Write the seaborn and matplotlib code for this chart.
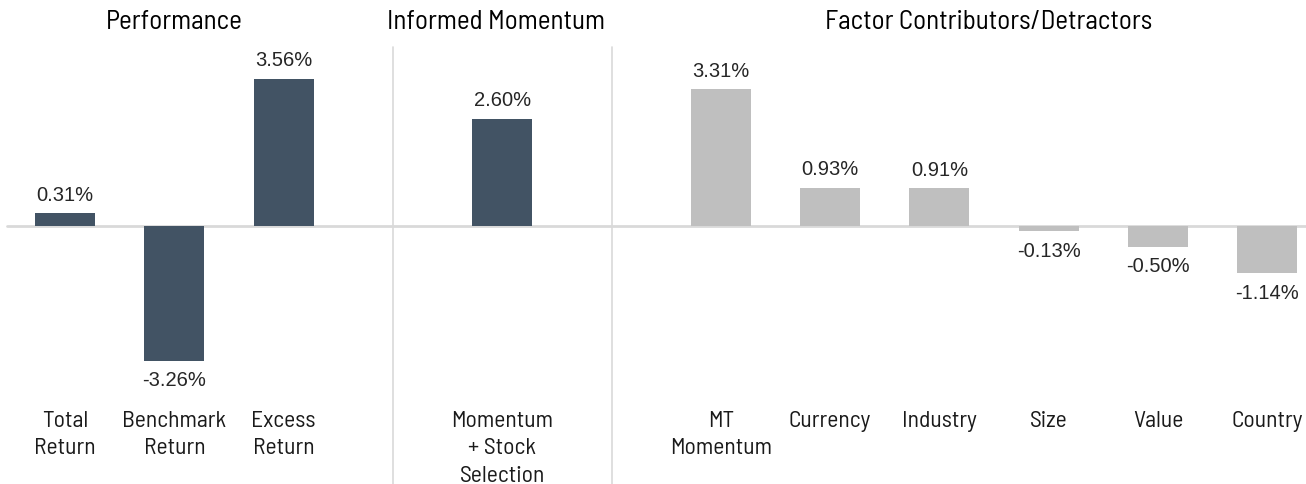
import numpy as np
import pandas as pd
import matplotlib.pyplot as plt
import seaborn as sns

sns.set_style("white")
plt.rcParams['font.family'] = ['Barlow Semi Condensed', 'Roboto', 'DejaVu Sans']

# chart data
labels = ["Total\nReturn", "Benchmark\nReturn", "Excess\nReturn", "gap1",
          "Momentum\n+ Stock\nSelection", "gap2",
          "MT\nMomentum", "Currency", "Industry", "Size", "Value", "Country"]
values = [0.31, -3.26, 3.56, np.nan, 2.60, np.nan,
          3.31, 0.93, 0.91, -0.13, -0.50, -1.14]
groups = ["Performance", "Performance", "Performance", "gap",
          "Informed Momentum", "gap",
          "Factor", "Factor", "Factor", "Factor", "Factor", "Factor"]
section_titles = ["Performance", "Informed Momentum", "Factor Contributors/Detractors"]
section_centers = [1.0, 3.94, 8.45]

dark = '#425364'
light = '#bfbfbf'
palette = {"Performance": dark, "Informed Momentum": dark, "Factor": light, "gap": 'white'}

df = pd.DataFrame({"label": labels, "value": values, "group": groups})

fig = plt.figure(figsize=(13.06, 4.85), dpi=100, facecolor='w')
ax = fig.add_axes([0, 0, 1, 1])

sns.barplot(data=df, x="label", y="value", hue="group", order=labels, palette=palette,
            dodge=False, width=0.55, legend=False, ax=ax, saturation=1, linewidth=0)

ax.set_xlim(-0.595, 11.354)
ax.set_ylim(-6.25, 5.50)
ax.axis('off')

# zero line and section dividers
ax.plot([-0.53, 11.354], [0, 0], color='#d9d9d9', lw=2, zorder=0)
for xd in [3, 5]:
    ax.plot([xd, xd], [-6.25, 4.33], color='#d9d9d9', lw=1.2, zorder=0)

# value labels
for i, v in enumerate(values):
    if np.isnan(v):
        continue
    off = 7 if v >= 0 else -7
    ax.annotate(f"{v:.2f}%", (i, v), xytext=(0, off), textcoords='offset points',
                ha='center', va='bottom' if v >= 0 else 'top', fontsize=14.5,
                color='#262626', family=['Liberation Sans', 'DejaVu Sans'])

# category labels
for i, lab in enumerate(labels):
    if lab.startswith("gap"):
        continue
    ax.text(i, -4.45, lab, ha='center', va='top', fontsize=17, linespacing=1.42,
            color='#1a1a1a')

# section titles
for t, xc in zip(section_titles, section_centers):
    ax.text(xc, 4.96, t, ha='center', va='center', fontsize=19.5, color='black')

plt.savefig("out.png", dpi=100, facecolor='w')
